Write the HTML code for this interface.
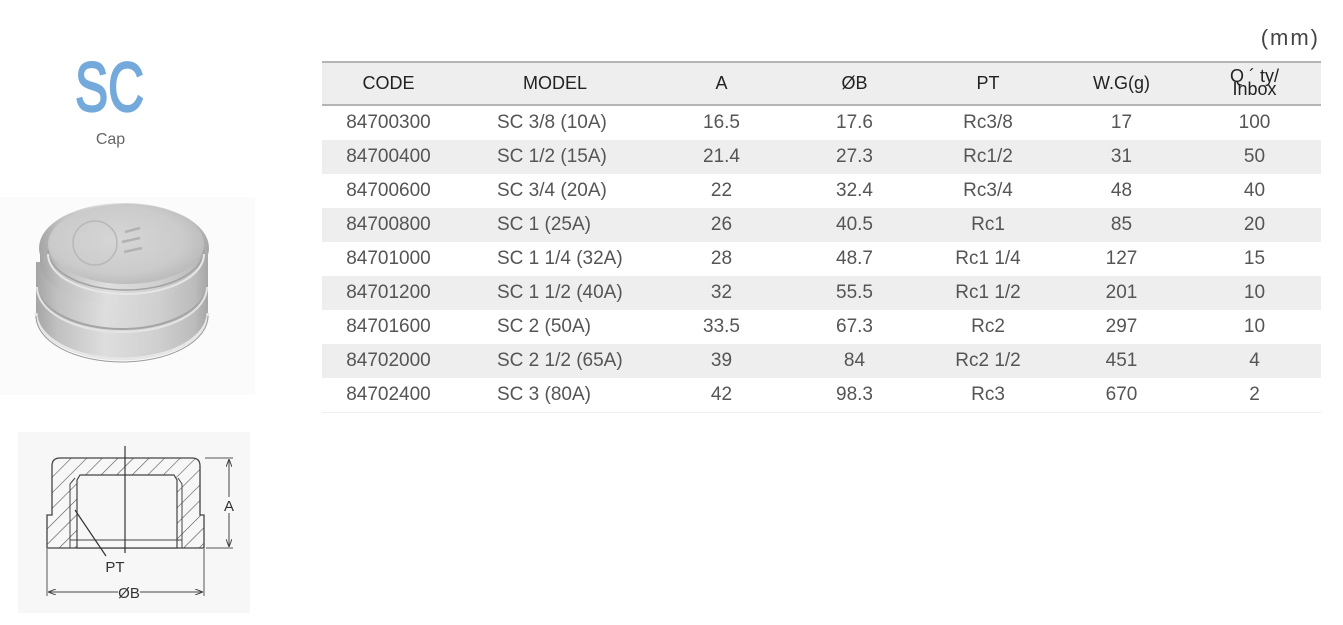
<!DOCTYPE html>
<html>
<head>
<meta charset="utf-8">
<style>
  html,body{margin:0;padding:0;background:#fff;}
  body{width:1343px;height:625px;position:relative;overflow:hidden;font-family:"Liberation Sans",Arial,sans-serif;}
  .title{position:absolute;left:75px;top:52px;font-size:70px;line-height:70px;color:#74a9dc;-webkit-text-stroke:2.2px #74a9dc;transform:scaleX(0.71);transform-origin:0 0;white-space:nowrap;}
  .sub{position:absolute;left:80px;width:61px;text-align:center;top:132px;font-size:16px;line-height:16px;color:#666;}
  .mm{position:absolute;right:23px;top:27px;font-size:22px;line-height:22px;letter-spacing:2px;color:#444;}
  .tbl{position:absolute;left:322px;top:61px;width:999px;border-top:2px solid #b4b4b4;}
  .hd{display:flex;height:41px;background:#eeeeee;border-bottom:2px solid #b4b4b4;color:#222;font-size:18px;}
  .row{display:flex;height:34px;color:#555;font-size:19px;}
  .row.g{background:#eeeeee;}
  .row.last{border-bottom:1px solid #efefef;}
  .c{display:flex;align-items:center;justify-content:center;white-space:nowrap;}
  .c1{width:133px;}
  .c2{width:200px;}
  .c2l{width:158px;justify-content:flex-start;padding-left:42px;}
  .c3{width:133px;}
  .c4{width:133px;}
  .c5{width:134px;}
  .c6{width:133px;}
  .c7{width:133px;}
  .qty{flex-direction:column;justify-content:flex-start;align-items:center;font-size:18px;line-height:13px;padding-top:7px;box-sizing:border-box;}
  .qty span{display:block;text-align:center;}
</style>
</head>
<body>
<div class="title">SC</div>
<div class="sub">Cap</div>
<div class="mm">(mm)</div>

<svg width="320" height="625" style="position:absolute;left:0;top:0" xmlns="http://www.w3.org/2000/svg">
  <defs>
    <linearGradient id="body" x1="0" y1="0" x2="1" y2="0">
      <stop offset="0" stop-color="#a4a4a4"/>
      <stop offset="0.12" stop-color="#c0c0c0"/>
      <stop offset="0.4" stop-color="#dedede"/>
      <stop offset="0.7" stop-color="#d0d0d0"/>
      <stop offset="0.92" stop-color="#bcbcbc"/>
      <stop offset="1" stop-color="#a6a6a6"/>
    </linearGradient>
    <radialGradient id="top" cx="0.45" cy="0.45" r="0.6">
      <stop offset="0" stop-color="#d6d6d6"/>
      <stop offset="0.7" stop-color="#cbcbcb"/>
      <stop offset="1" stop-color="#b8b8b8"/>
    </radialGradient>
    <pattern id="hatch" patternUnits="userSpaceOnUse" width="11" height="11" patternTransform="rotate(45)">
      <line x1="0" y1="0" x2="0" y2="11" stroke="#555" stroke-width="1.2"/>
    </pattern>
    <marker id="arr" markerWidth="8" markerHeight="6" refX="8" refY="3" orient="auto" markerUnits="userSpaceOnUse">
      <path d="M0,0 L8,3 L0,6" fill="none" stroke="#444" stroke-width="1"/>
    </marker>
  </defs>

  <!-- photo -->
  <rect x="0" y="197" width="255" height="198" fill="#fbfbfb"/>
  <path d="M36 262 L36 313 A86 46 0 0 0 208 313 L208 262 Z" fill="url(#body)"/>
  <path d="M36 313 A86 46 0 0 0 208 313" fill="none" stroke="#e6e6e6" stroke-width="3"/>
  <path d="M36 313 A86 46 0 0 0 208 313" fill="none" stroke="#9a9a9a" stroke-width="1" transform="translate(0,3)"/>
  <path d="M37 284 A85 45 0 0 0 207 284" fill="none" stroke="#a5a5a5" stroke-width="2"/>
  <path d="M37 287 A85 45 0 0 0 207 287" fill="none" stroke="#e4e4e4" stroke-width="2"/>
  <path d="M40 255 L40 262 A84 44 0 0 0 208 262 L208 255 Z" fill="url(#body)"/>
  <ellipse cx="124" cy="248" rx="85" ry="45" fill="url(#body)"/>
  <ellipse cx="126" cy="244" rx="78" ry="40" fill="url(#top)"/>
  <path d="M48 250 A78 40 0 0 0 204 250" fill="none" stroke="#a2a2a2" stroke-width="1.5"/>
  <path d="M48 254 A78 40 0 0 0 204 254" fill="none" stroke="#e6e6e6" stroke-width="2"/>
  <ellipse cx="95" cy="243" rx="22" ry="22" fill="none" stroke="#b8b8b8" stroke-width="1.5"/>
  <path d="M125 232 L140 228 M122 242 L140 238 M124 252 L142 248" stroke="#b2b2b2" stroke-width="2.5"/>

  <!-- drawing -->
  <rect x="18" y="432" width="232" height="181" fill="#f7f7f7"/>
  <path fill-rule="evenodd" fill="url(#hatch)" d="M47 548 L47 515 L52 515 L52 466 Q52 458 60 458 L192 458 Q200 458 200 466 L200 515 L204 515 L204 548 Z M77 548 L77 480 L80 475 L174 475 L177 480 L177 548 Z"/>
  <path fill="none" stroke="#444" stroke-width="1.3" d="M47 548 L47 515 L52 515 L52 466 Q52 458 60 458 L192 458 Q200 458 200 466 L200 515 L204 515 L204 548 Z"/>
  <path fill="#f7f7f7" stroke="#444" stroke-width="1.2" d="M77 548 L77 480 L80 475 L174 475 L177 480 L177 548 Z"/>
  <path fill="none" stroke="#444" stroke-width="1" d="M70 548 L70 484 L75 478 M182 548 L182 484 L178 478 M77 540 L177 540 M70 540 L77 540 M177 540 L182 540"/>
  <line x1="125" y1="446" x2="125" y2="553" stroke="#333" stroke-width="1.2"/>
  <line x1="75" y1="510" x2="106" y2="556" stroke="#333" stroke-width="1.2"/>
  <rect x="105" y="558" width="19" height="16" fill="#f7f7f7"/>
  <text x="115" y="572" font-family="Liberation Sans, sans-serif" font-size="15" fill="#333" text-anchor="middle">PT</text>
  <line x1="205" y1="458" x2="233" y2="458" stroke="#555" stroke-width="1"/>
  <line x1="206" y1="548" x2="233" y2="548" stroke="#555" stroke-width="1"/>
  <line x1="229" y1="497" x2="229" y2="459" stroke="#444" stroke-width="1" marker-end="url(#arr)"/>
  <line x1="229" y1="513" x2="229" y2="547" stroke="#444" stroke-width="1" marker-end="url(#arr)"/>
  <text x="229" y="511" font-family="Liberation Sans, sans-serif" font-size="15" fill="#333" text-anchor="middle">A</text>
  <line x1="47" y1="549" x2="47" y2="596" stroke="#555" stroke-width="1"/>
  <line x1="204" y1="549" x2="204" y2="596" stroke="#555" stroke-width="1"/>
  <line x1="118" y1="592" x2="48" y2="592" stroke="#444" stroke-width="1" marker-end="url(#arr)"/>
  <line x1="140" y1="592" x2="203" y2="592" stroke="#444" stroke-width="1" marker-end="url(#arr)"/>
  <text x="129" y="598" font-family="Liberation Sans, DejaVu Sans, sans-serif" font-size="15" fill="#333" text-anchor="middle">ØB</text>
</svg>

<div class="tbl">
  <div class="hd">
    <div class="c c1">CODE</div>
    <div class="c c2">MODEL</div>
    <div class="c c3">A</div>
    <div class="c c4">ØB</div>
    <div class="c c5">PT</div>
    <div class="c c6">W.G(g)</div>
    <div class="c c7 qty"><span>Q ´ ty/</span><span>Inbox</span></div>
  </div>
  <div class="row"><div class="c c1">84700300</div><div class="c c2l">SC 3/8 (10A)</div><div class="c c3">16.5</div><div class="c c4">17.6</div><div class="c c5">Rc3/8</div><div class="c c6">17</div><div class="c c7">100</div></div>
  <div class="row g"><div class="c c1">84700400</div><div class="c c2l">SC 1/2 (15A)</div><div class="c c3">21.4</div><div class="c c4">27.3</div><div class="c c5">Rc1/2</div><div class="c c6">31</div><div class="c c7">50</div></div>
  <div class="row"><div class="c c1">84700600</div><div class="c c2l">SC 3/4 (20A)</div><div class="c c3">22</div><div class="c c4">32.4</div><div class="c c5">Rc3/4</div><div class="c c6">48</div><div class="c c7">40</div></div>
  <div class="row g"><div class="c c1">84700800</div><div class="c c2l">SC 1 (25A)</div><div class="c c3">26</div><div class="c c4">40.5</div><div class="c c5">Rc1</div><div class="c c6">85</div><div class="c c7">20</div></div>
  <div class="row"><div class="c c1">84701000</div><div class="c c2l">SC 1 1/4 (32A)</div><div class="c c3">28</div><div class="c c4">48.7</div><div class="c c5">Rc1 1/4</div><div class="c c6">127</div><div class="c c7">15</div></div>
  <div class="row g"><div class="c c1">84701200</div><div class="c c2l">SC 1 1/2 (40A)</div><div class="c c3">32</div><div class="c c4">55.5</div><div class="c c5">Rc1 1/2</div><div class="c c6">201</div><div class="c c7">10</div></div>
  <div class="row"><div class="c c1">84701600</div><div class="c c2l">SC 2 (50A)</div><div class="c c3">33.5</div><div class="c c4">67.3</div><div class="c c5">Rc2</div><div class="c c6">297</div><div class="c c7">10</div></div>
  <div class="row g"><div class="c c1">84702000</div><div class="c c2l">SC 2 1/2 (65A)</div><div class="c c3">39</div><div class="c c4">84</div><div class="c c5">Rc2 1/2</div><div class="c c6">451</div><div class="c c7">4</div></div>
  <div class="row last"><div class="c c1">84702400</div><div class="c c2l">SC 3 (80A)</div><div class="c c3">42</div><div class="c c4">98.3</div><div class="c c5">Rc3</div><div class="c c6">670</div><div class="c c7">2</div></div>
</div>
</body>
</html>
